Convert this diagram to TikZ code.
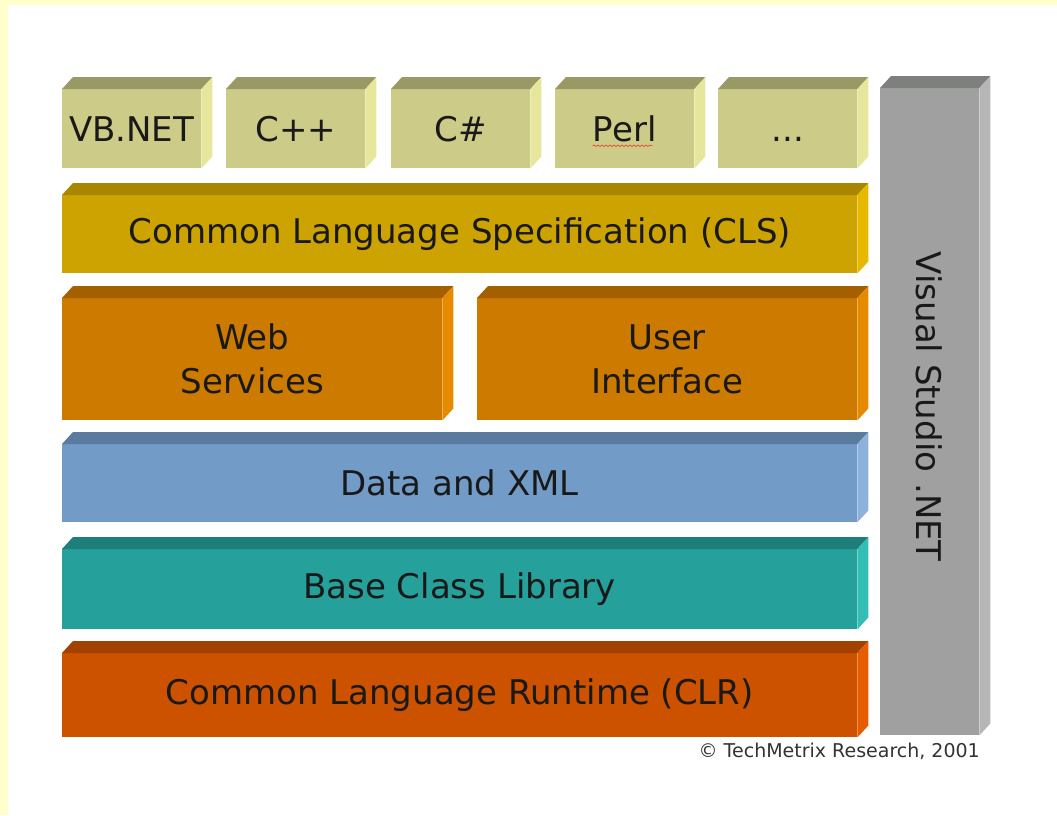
\documentclass[tikz,border=0pt]{standalone}
\usepackage{fontspec}
\setmainfont{DejaVu Sans}
\usetikzlibrary{decorations.pathmorphing}
% slide colours
\definecolor{slidebg}{HTML}{FFFFCC}
\definecolor{langfront}{HTML}{CCCC88}
\definecolor{langtop}{HTML}{999966}
\definecolor{langside}{HTML}{E6E69C}
\definecolor{clsfront}{HTML}{CCA300}
\definecolor{clstop}{HTML}{A88600}
\definecolor{clsside}{HTML}{E6B800}
\definecolor{svcfront}{HTML}{CC7A00}
\definecolor{svctop}{HTML}{A35F00}
\definecolor{svcside}{HTML}{E68A00}
\definecolor{datafront}{HTML}{729BC8}
\definecolor{datatop}{HTML}{5A7A9E}
\definecolor{dataside}{HTML}{8CB2DC}
\definecolor{bclfront}{HTML}{26A09A}
\definecolor{bcltop}{HTML}{1E7F7A}
\definecolor{bclside}{HTML}{33BDB5}
\definecolor{clrfront}{HTML}{CC5200}
\definecolor{clrtop}{HTML}{A34100}
\definecolor{clrside}{HTML}{E65C00}
\definecolor{vsfront}{HTML}{A0A0A0}
\definecolor{vstop}{HTML}{7D807D}
\definecolor{vsside}{HTML}{B6B6B6}
\tikzset{
  slab/.style={rectangle, inner sep=0pt, anchor=north west, align=center,
    text=black!90, font=\fontsize{34}{44}\selectfont},
}
% top and right faces of a slab: node, top colour, side colour
\newcommand{\slabfaces}[3]{%
  \fill[#2] (#1.north west) -- ++(11,-12) -- ([shift={(11,-12)}]#1.north east) -- (#1.north east) -- cycle;
  \fill[#3] (#1.north east) -- ++(11,-12) -- ([shift={(11,-12)}]#1.south east) -- (#1.south east) -- cycle;
}
\begin{document}
\begin{tikzpicture}[x=1pt,y=-1pt]
        \useasboundingbox (0,0) rectangle (1057,815);
        \fill[slidebg] (0,0) rectangle (1057,815);
        \fill[white] (8,5) rectangle (1057,815);
        % languages on top
        \node[slab,fill=langfront,minimum width=139,minimum height=79] (vbnet) at (62,89) {VB.NET};
        \node[slab,fill=langfront,minimum width=139,minimum height=79] (cpp) at (226,89) {C++};
        \node[slab,fill=langfront,minimum width=139,minimum height=79] (csharp) at (391,89) {C\#};
        \node[slab,fill=langfront,minimum width=139,minimum height=79] (perl) at (555,89) {Perl};
        \node[slab,fill=langfront,minimum width=139,minimum height=79] (more) at (718,89) {\vphantom{B}...};
        \foreach \lang in {vbnet,cpp,csharp,perl,more} {\slabfaces{\lang}{langtop}{langside}}
        \draw[red,decorate,decoration={snake,amplitude=0.8,segment length=4}]
          ([shift={(-32,17)}]perl.center) -- ([shift={(28,17)}]perl.center);
        % the layers
        \node[slab,fill=clsfront,minimum width=795,minimum height=78] (cls) at (62,195) {Common Language Specification (CLS)};
        \slabfaces{cls}{clstop}{clsside}
        \node[slab,fill=svcfront,minimum width=380,minimum height=122] (websvc) at (62,298) {Web\\Services};
        \slabfaces{websvc}{svctop}{svcside}
        \node[slab,fill=svcfront,minimum width=380,minimum height=122] (userui) at (477,298) {User\\Interface};
        \slabfaces{userui}{svctop}{svcside}
        \node[slab,fill=datafront,minimum width=795,minimum height=78] (dataxml) at (62,444) {Data and XML};
        \slabfaces{dataxml}{datatop}{dataside}
        \node[slab,fill=bclfront,minimum width=795,minimum height=80] (bcl) at (62,549) {Base Class Library};
        \slabfaces{bcl}{bcltop}{bclside}
        \node[slab,fill=clrfront,minimum width=795,minimum height=84] (clr) at (62,653) {Common Language Runtime (CLR)};
        \slabfaces{clr}{clrtop}{clrside}
        % Visual Studio column on the right
        \node[slab,fill=vsfront,minimum width=99,minimum height=647] (vs) at (880,88) {};
        \slabfaces{vs}{vstop}{vsside}
        \node[rotate=-90,inner sep=0pt,text=black!90,font=\fontsize{34}{44}\selectfont] (vslabel) at ([shift={(-1,-5)}]vs.center) {Visual Studio .NET};
        \node[anchor=base east,inner sep=0pt,text=black!80,font=\fontsize{19}{19}\selectfont] (credit) at (980,757) {© TechMetrix Research, 2001};
      \end{tikzpicture}
\end{document}
